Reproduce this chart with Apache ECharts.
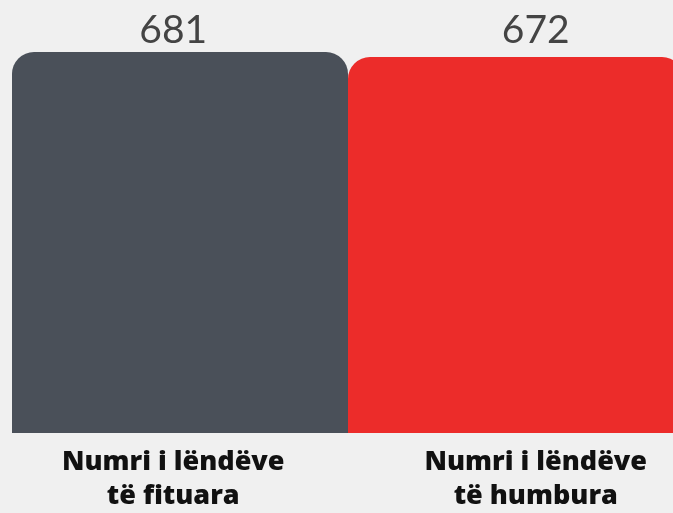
<!DOCTYPE html>
<html><head><meta charset="utf-8">
<script src="https://cdn.jsdelivr.net/npm/echarts@6/dist/echarts.min.js"></script>
<style>html,body{margin:0;padding:0;background:#f0f0f0;overflow:hidden}#c{width:745px;height:513px;margin-left:-20px}</style>
</head><body><div id="c"></div>
<script>
const categories = ['Numri i lëndëve\ntë fituara', 'Numri i lëndëve\ntë humbura'];
const values = [681, 672];
const valueLabels = values.map(String);
const palette = ['#4a5059', '#ec2c2a'];

const chart = echarts.init(document.getElementById('c'));
chart.setOption({
  backgroundColor: '#f0f0f0',
  animation: false,
  grid: [
    {left: 32, width: 672, top: 52, bottom: 80},
    {left: 12, width: 725, top: 52, bottom: 80}
  ],
  xAxis: [
    {gridIndex: 0, type: 'category', data: categories, show: false},
    {gridIndex: 1, type: 'category', data: categories, position: 'bottom',
     axisLine: {show: false}, axisTick: {show: false},
     axisLabel: {margin: 18, color: '#111', fontFamily: 'Open Sans', fontWeight: 800,
                 fontSize: 27, lineHeight: 34, interval: 0}},
    {gridIndex: 1, type: 'category', data: valueLabels, position: 'top',
     axisLine: {show: false}, axisTick: {show: false},
     axisLabel: {margin: 2, color: '#444', fontFamily: 'Lato', fontWeight: 400,
                 fontSize: 39, lineHeight: 39, interval: 0}}
  ],
  yAxis: [
    {gridIndex: 0, type: 'value', min: 0, max: 681, show: false},
    {gridIndex: 1, type: 'value', min: 0, max: 681, show: false}
  ],
  series: [{
    type: 'bar', xAxisIndex: 0, yAxisIndex: 0,
    barCategoryGap: 0,
    data: values,
    itemStyle: {
      borderRadius: [22, 22, 0, 0],
      color: p => palette[p.dataIndex]
    }
  }]
});
</script></body></html>
